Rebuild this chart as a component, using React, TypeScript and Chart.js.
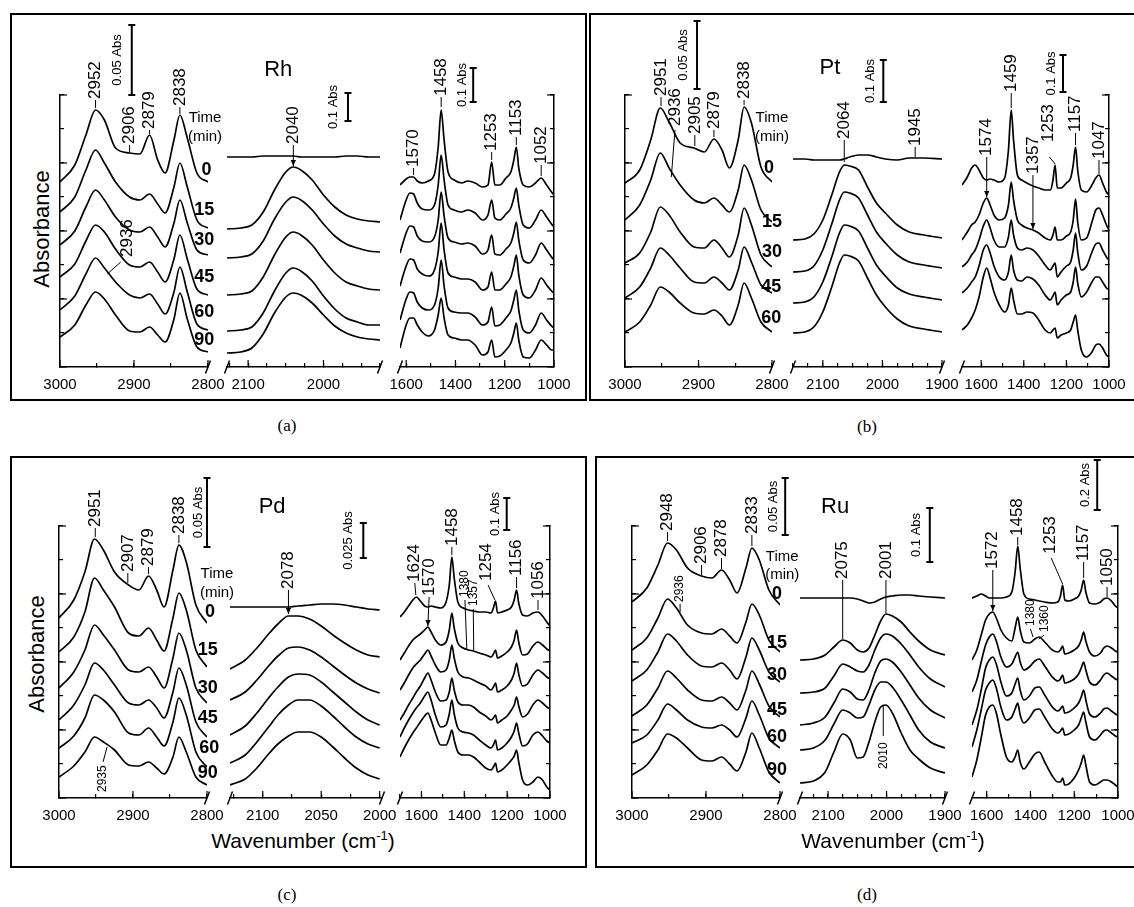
import React, { useEffect, useRef } from 'react';
import { Chart, registerables } from 'chart.js';

Chart.register(...registerables);

const SANS = '"Liberation Sans", Arial, Helvetica, sans-serif';
const SERIF = '"Liberation Serif", "Times New Roman", Times, serif';
const YMAX = 272;

// ---------------- wavenumber grids (cm-1) ----------------
const chX = [3000, 2980, 2965, 2952, 2940, 2925, 2906, 2892, 2879, 2868, 2858, 2846, 2838, 2828, 2815, 2800];
const rhCOX = [2128, 2110, 2095, 2080, 2065, 2050, 2040, 2030, 2015, 2000, 1985, 1970, 1955, 1940, 1925];
const rhFPX = [1625, 1600, 1585, 1570, 1555, 1535, 1510, 1485, 1470, 1458, 1446, 1430, 1405, 1375, 1350, 1320, 1290, 1268, 1253, 1240, 1220, 1195, 1175, 1163, 1153, 1143, 1125, 1100, 1075, 1052, 1030, 1010, 1000];
const ptCOX = [2150, 2130, 2115, 2100, 2085, 2072, 2064, 2055, 2040, 2025, 2010, 1995, 1975, 1955, 1930, 1900];
const ptFPX = [1690, 1665, 1645, 1628, 1610, 1590, 1574, 1558, 1540, 1515, 1490, 1472, 1459, 1448, 1430, 1410, 1385, 1357, 1330, 1300, 1275, 1263, 1253, 1243, 1225, 1200, 1180, 1168, 1157, 1147, 1130, 1105, 1080, 1062, 1047, 1030, 1012, 1000];
const pdCOX = [2128, 2115, 2105, 2095, 2087, 2078, 2070, 2060, 2050, 2040, 2030, 2020, 2010, 2000];
const pdFPX = [1700, 1680, 1660, 1640, 1624, 1605, 1585, 1570, 1555, 1535, 1510, 1485, 1470, 1458, 1447, 1430, 1405, 1380, 1357, 1330, 1300, 1275, 1264, 1254, 1245, 1225, 1200, 1180, 1167, 1156, 1146, 1128, 1105, 1080, 1056, 1035, 1015, 1000];
const ruCOX = [2148, 2125, 2105, 2090, 2075, 2062, 2050, 2040, 2030, 2020, 2010, 2001, 1990, 1975, 1960, 1945, 1925, 1900];
const ruFPX = [1667, 1645, 1625, 1605, 1588, 1572, 1556, 1535, 1510, 1485, 1470, 1458, 1447, 1430, 1405, 1380, 1360, 1335, 1300, 1275, 1263, 1253, 1243, 1225, 1200, 1180, 1168, 1157, 1147, 1130, 1105, 1080, 1065, 1050, 1030, 1012, 1000];

// ---------------- stacked spectra (offset absorbance, a.u.) ----------------
// Rh: 0, 15, 30, 45, 60, 90 min
const rhCH = [
  [185, 202, 232, 257, 247, 219, 214, 213, 232, 207, 194, 227, 252, 229, 194, 185],
  [155, 170, 197, 217, 204, 185, 170, 167, 173, 163, 154, 180, 204, 180, 147, 139],
  [122, 136, 160, 177, 167, 150, 137, 135, 140, 130, 120, 144, 167, 144, 117, 112],
  [90, 103, 126, 142, 135, 118, 102, 100, 105, 95, 85, 108, 132, 108, 78, 72],
  [57, 71, 93, 109, 99, 85, 72, 69, 73, 63, 53, 75, 100, 75, 43, 37],
  [30, 42, 62, 75, 68, 52, 36, 35, 40, 32, 25, 48, 74, 48, 20, 15],
];
const rhCO = [
  [210, 210, 210, 211, 211, 211, 211, 210, 210, 210, 210, 211, 211, 210, 210],
  [138, 139, 142, 155, 177, 195, 200, 197, 187, 172, 160, 152, 148, 146, 145],
  [109, 110, 113, 126, 148, 165, 170, 167, 157, 143, 131, 123, 119, 116, 115],
  [72, 73, 76, 90, 112, 130, 135, 132, 122, 107, 94, 85, 81, 78, 77],
  [36, 37, 40, 54, 76, 94, 99, 96, 86, 71, 58, 49, 45, 42, 42],
  [14, 15, 19, 33, 54, 70, 74, 72, 64, 52, 41, 34, 30, 28, 27],
];
const rhFP = [
  [182, 188, 190, 190, 186, 184, 186, 193, 220, 257, 227, 195, 187, 184, 186, 184, 180, 182, 205, 182, 182, 189, 195, 207, 220, 199, 182, 180, 184, 189, 182, 175, 172],
  [147, 167, 174, 173, 164, 158, 157, 162, 182, 212, 187, 162, 157, 155, 157, 154, 147, 152, 167, 149, 147, 153, 159, 169, 179, 162, 142, 139, 147, 157, 150, 143, 140],
  [114, 134, 141, 140, 131, 126, 125, 130, 147, 175, 151, 129, 125, 123, 124, 121, 113, 117, 132, 113, 112, 118, 124, 134, 145, 127, 107, 104, 112, 124, 117, 110, 107],
  [81, 101, 108, 107, 98, 93, 91, 97, 115, 144, 117, 94, 90, 88, 88, 85, 77, 80, 95, 77, 77, 83, 90, 101, 112, 92, 72, 69, 77, 89, 82, 76, 74],
  [47, 68, 75, 74, 65, 59, 57, 62, 79, 107, 81, 59, 55, 54, 54, 50, 42, 45, 60, 41, 42, 49, 56, 67, 77, 57, 37, 34, 42, 54, 47, 41, 39],
  [19, 42, 49, 49, 42, 35, 31, 37, 52, 69, 49, 32, 29, 27, 27, 22, 12, 15, 27, 10, 11, 17, 24, 34, 44, 27, 10, 9, 17, 27, 22, 17, 17],
];
// Pt: 0, 15, 30, 45, 60 min
const ptCH = [
  [184, 197, 227, 259, 245, 224, 219, 215, 228, 217, 199, 227, 260, 244, 200, 185],
  [147, 162, 187, 214, 199, 182, 167, 164, 169, 162, 155, 177, 202, 187, 157, 145],
  [104, 114, 135, 160, 152, 135, 120, 119, 127, 119, 110, 132, 159, 142, 112, 100],
  [69, 80, 99, 119, 112, 99, 85, 84, 90, 84, 77, 97, 120, 105, 82, 74],
  [35, 45, 62, 80, 75, 64, 54, 53, 57, 51, 42, 62, 84, 69, 45, 35],
];
const ptCO = [
  [208, 208, 207, 207, 207, 207, 208, 210, 212, 212, 210, 208, 207, 209, 209, 208],
  [127, 128, 133, 147, 172, 195, 202, 201, 197, 180, 164, 154, 142, 135, 132, 129],
  [95, 96, 101, 117, 143, 167, 175, 174, 169, 152, 135, 124, 112, 105, 102, 99],
  [64, 65, 70, 85, 110, 134, 142, 141, 136, 119, 102, 91, 79, 73, 70, 67],
  [34, 35, 40, 55, 80, 104, 112, 111, 106, 89, 72, 60, 48, 41, 38, 35],
];
const ptFP = [
  [182, 190, 199, 202, 197, 189, 187, 188, 187, 185, 189, 217, 257, 227, 192, 187, 184, 181, 179, 177, 177, 187, 202, 179, 179, 184, 189, 202, 220, 197, 177, 175, 182, 189, 192, 184, 175, 172],
  [127, 135, 142, 145, 152, 164, 169, 162, 152, 147, 149, 162, 185, 167, 147, 142, 139, 137, 134, 129, 127, 132, 140, 127, 127, 131, 135, 147, 168, 145, 127, 129, 145, 157, 159, 152, 142, 137],
  [100, 105, 112, 117, 127, 141, 147, 139, 127, 120, 120, 130, 147, 132, 119, 117, 119, 117, 111, 102, 97, 101, 104, 90, 95, 101, 105, 117, 134, 115, 97, 101, 115, 123, 124, 117, 110, 107],
  [74, 79, 85, 90, 101, 117, 122, 114, 101, 90, 87, 95, 112, 97, 87, 86, 90, 88, 82, 72, 67, 71, 75, 62, 67, 72, 75, 85, 100, 84, 70, 75, 85, 90, 90, 85, 79, 77],
  [37, 42, 49, 57, 70, 90, 99, 89, 75, 62, 55, 62, 79, 67, 53, 53, 55, 54, 47, 37, 34, 37, 39, 29, 32, 34, 37, 45, 52, 37, 17, 10, 15, 22, 23, 19, 12, 10],
];
// Pd: 0, 15, 30, 45, 60, 90 min
const pdCH = [
  [180, 198, 226, 259, 248, 226, 213, 208, 222, 208, 191, 228, 253, 236, 193, 175],
  [146, 161, 186, 220, 208, 191, 165, 162, 170, 158, 147, 180, 205, 188, 148, 131],
  [110, 126, 148, 173, 163, 148, 128, 126, 131, 121, 110, 140, 165, 148, 110, 95],
  [78, 93, 113, 135, 128, 113, 95, 93, 98, 90, 80, 106, 130, 113, 76, 61],
  [50, 62, 80, 103, 98, 86, 65, 63, 70, 61, 52, 76, 100, 83, 46, 31],
  [21, 32, 46, 61, 56, 48, 33, 32, 36, 30, 24, 41, 61, 46, 21, 13],
];
const pdCO = [
  [191, 191, 191, 191, 191, 191, 192, 193, 194, 194, 193, 191, 189, 188],
  [129, 138, 150, 164, 174, 182, 182, 179, 172, 163, 155, 148, 143, 141],
  [98, 106, 118, 132, 142, 150, 151, 148, 141, 132, 123, 115, 109, 105],
  [63, 72, 85, 100, 111, 121, 124, 123, 116, 106, 96, 86, 78, 73],
  [35, 43, 56, 71, 83, 93, 98, 98, 92, 82, 71, 61, 54, 50],
  [13, 19, 30, 44, 54, 62, 66, 66, 61, 51, 40, 30, 23, 19],
];
const pdFP = [
  [181, 186, 192, 198, 201, 197, 192, 191, 192, 191, 190, 196, 213, 241, 220, 196, 190, 188, 187, 186, 186, 185, 190, 197, 185, 186, 188, 191, 198, 208, 195, 183, 182, 185, 186, 182, 176, 172],
  [138, 145, 152, 158, 161, 164, 168, 171, 166, 158, 153, 156, 168, 185, 170, 155, 150, 148, 147, 145, 143, 141, 144, 148, 140, 142, 146, 151, 158, 168, 156, 143, 144, 152, 156, 153, 149, 147],
  [108, 115, 123, 130, 134, 138, 144, 148, 142, 133, 126, 128, 138, 153, 140, 126, 121, 120, 118, 115, 112, 108, 111, 115, 106, 108, 112, 118, 125, 135, 124, 112, 114, 123, 128, 125, 121, 119],
  [78, 85, 93, 100, 106, 112, 120, 125, 118, 106, 97, 98, 106, 120, 108, 96, 93, 93, 91, 86, 82, 78, 80, 83, 75, 78, 82, 88, 93, 101, 92, 81, 84, 93, 98, 95, 91, 89],
  [61, 70, 78, 85, 90, 95, 102, 106, 98, 83, 71, 73, 84, 98, 84, 70, 66, 65, 63, 58, 53, 50, 53, 58, 48, 50, 55, 61, 67, 75, 65, 52, 54, 63, 66, 62, 57, 55],
  [41, 50, 58, 65, 70, 76, 82, 85, 78, 65, 53, 53, 60, 68, 58, 46, 43, 43, 41, 36, 30, 28, 31, 35, 26, 28, 33, 38, 42, 48, 36, 18, 13, 16, 21, 18, 11, 8],
];
// Ru: 0, 15, 30, 45, 60, 90 min
const ruCH = [
  [196, 210, 233, 255, 248, 230, 222, 220, 228, 218, 205, 230, 250, 238, 208, 193],
  [148, 160, 180, 199, 190, 173, 165, 164, 169, 162, 155, 176, 194, 183, 158, 146],
  [117, 128, 146, 164, 157, 143, 132, 131, 135, 128, 119, 141, 160, 148, 126, 116],
  [82, 93, 110, 127, 120, 108, 98, 97, 101, 95, 88, 108, 127, 114, 92, 81],
  [55, 63, 78, 94, 88, 78, 71, 70, 73, 68, 61, 80, 97, 83, 60, 50],
  [23, 33, 48, 64, 60, 50, 38, 37, 41, 34, 27, 46, 65, 50, 26, 15],
];
const ruCO = [
  [200, 200, 200, 200, 200, 200, 199, 197, 195, 196, 199, 201, 202, 203, 203, 202, 201, 200],
  [138, 139, 143, 151, 158, 155, 148, 146, 150, 163, 177, 184, 182, 176, 166, 157, 148, 143],
  [105, 106, 110, 122, 134, 131, 127, 126, 133, 148, 160, 164, 162, 154, 143, 131, 119, 111],
  [73, 75, 81, 95, 109, 106, 99, 98, 108, 125, 137, 139, 136, 126, 113, 100, 88, 80],
  [48, 50, 58, 74, 88, 85, 80, 81, 93, 108, 116, 116, 111, 98, 83, 68, 56, 50],
  [15, 17, 26, 46, 64, 58, 40, 41, 56, 76, 91, 93, 85, 65, 48, 39, 30, 25],
];
const ruFP = [
  [200, 202, 204, 202, 200, 200, 200, 200, 201, 206, 226, 252, 230, 204, 199, 198, 197, 196, 195, 196, 202, 213, 198, 197, 199, 202, 208, 218, 206, 195, 194, 196, 199, 200, 197, 192, 190],
  [138, 148, 163, 178, 184, 186, 180, 168, 160, 157, 170, 181, 168, 156, 155, 159, 161, 156, 148, 146, 148, 152, 144, 145, 148, 152, 158, 166, 157, 146, 142, 145, 150, 152, 150, 147, 146],
  [106, 118, 136, 153, 161, 164, 157, 141, 131, 134, 141, 146, 136, 128, 131, 137, 139, 132, 121, 117, 119, 123, 115, 116, 119, 124, 130, 136, 128, 116, 113, 118, 123, 125, 122, 119, 118],
  [73, 88, 108, 130, 138, 141, 134, 116, 102, 105, 114, 120, 108, 98, 102, 110, 111, 103, 91, 87, 89, 92, 85, 86, 90, 95, 101, 108, 98, 84, 81, 85, 89, 90, 87, 84, 83],
  [51, 68, 88, 108, 115, 118, 110, 91, 78, 81, 89, 95, 83, 75, 80, 88, 89, 81, 69, 65, 67, 70, 63, 64, 68, 73, 80, 86, 76, 61, 58, 63, 67, 68, 65, 62, 61],
  [21, 38, 60, 83, 91, 93, 85, 63, 41, 36, 41, 48, 36, 29, 36, 44, 46, 36, 22, 16, 16, 20, 13, 14, 20, 28, 35, 43, 33, 16, 13, 16, 18, 18, 16, 13, 11],
];

// ---------------- annotations (in wavenumber / a.u. coordinates) ----------------
const pk = (s: string, x: number, b: number, t: number) => ({ k: 'p', s, x, h: b, x1: x, h1: b, x2: x, h2: t });
const pkA = (s: string, x: number, b: number, t: number) => ({ k: 'pa', s, x, h: b, x1: x, h1: b, x2: x, h2: t });
const pkD = (s: string, x: number, b: number, x1: number, h1: number, x2: number, h2: number) => ({ k: 'p', s, x, h: b, x1, h1, x2, h2 });
const pkDA = (s: string, x: number, b: number, x1: number, h1: number, x2: number, h2: number) => ({ k: 'pa', s, x, h: b, x1, h1, x2, h2 });
const pkS = (s: string, x: number, b: number, x1: number, h1: number, x2: number, h2: number) => ({ k: 'ps', s, x, h: b, x1, h1, x2, h2 });
const bar = (s: string, x: number, h1: number, h2: number, tx: number) => ({ k: 'bar', s, x, h: 0, h1, h2, tx });
const tm = (s: string, x: number, h: number) => ({ k: 'tm', s, x, h });
const tn = (s: string, x: number, h: number) => ({ k: 'tn', s, x, h });
const ttl = (s: string, x: number, h: number) => ({ k: 'title', s, x, h });

const rhCHNotes = [
  pk('2952', 2952, 267, 259), bar('0.05 Abs', 2903, 272, 342, 2922),
  pk('2906', 2906, 222, 215), pk('2879', 2879, 237, 233), pk('2838', 2838, 260, 253),
  pkD('2936', 2909.5, 109, 2918, 105, 2936, 93),
  tm('Time', 2804, 249), tm('(min)', 2804, 230),
  tn('0', 2802, 197), tn('15', 2805, 157), tn('30', 2805, 127), tn('45', 2805, 90), tn('60', 2805, 55), tn('90', 2805, 27),
];
const rhCONotes = [ttl('Rh', 2060, 297), pkA('2040', 2040, 222, 201), bar('0.1 Abs', 1967.5, 246, 274, 1987)];
const rhFPNotes = [
  pk('1570', 1570, 199, 192), pk('1458', 1458, 270, 260), bar('0.1 Abs', 1328, 265, 299, 1371),
  pk('1253', 1253, 215, 207), pk('1153', 1153, 230, 222), pk('1052', 1052, 202, 191),
];
const ptCHNotes = [
  pk('2951', 2951, 270, 261), pkD('2936', 2932, 240, 2932, 237, 2937, 190), bar('0.05 Abs', 2902, 278, 346, 2921),
  pk('2905', 2905, 232, 221), pk('2879', 2879, 237, 230), pk('2838', 2838, 267, 262),
  tm('Time', 2800, 249), tm('(min)', 2800, 230),
  tn('0', 2804, 199), tn('15', 2800, 145), tn('30', 2800, 115), tn('45', 2801, 80), tn('60', 2801, 49),
];
const ptCONotes = [ttl('Pt', 2088, 299), pk('2064', 2064, 227, 205), bar('0.1 Abs', 1998.5, 265, 307, 2020.6), pk('1945', 1945, 220, 210)];
const ptFPNotes = [
  pkA('1574', 1574, 210, 170), pk('1459', 1459, 274, 259), pkA('1357', 1357, 192, 138),
  pkD('1253', 1287, 224, 1280, 210, 1253, 203), bar('0.1 Abs', 1216, 275, 312, 1271),
  pk('1157', 1157, 234, 222), pk('1047', 1047, 207, 193),
];
const pdCHNotes = [
  bar('0.05 Abs', 2800, 251, 320, 2812),
  pk('2951', 2951, 270, 261), pk('2907', 2907, 225, 215), pk('2879', 2879, 231, 224), pk('2838', 2838, 263, 255),
  tm('Time', 2786.5, 224), tm('(min)', 2786.5, 205),
  tn('0', 2796, 186), tn('15', 2799, 148), tn('30', 2799, 110), tn('45', 2799, 80), tn('60', 2797, 50), tn('90', 2799, 25),
  pkS('2935', 2940.5, 5, 2940.5, 36, 2935, 51),
];
const pdCONotes = [ttl('Pd', 2092, 291), pkA('2078', 2078, 208, 184), bar('0.025 Abs', 2014, 240, 275, 2027)];
const pdFPNotes = [
  pkD('1624', 1631, 215, 1631, 215, 1626, 203), pkDA('1570', 1564, 201, 1564, 201, 1570, 172), pk('1458', 1458, 251, 243),
  pkS('1380', 1397, 200, 1397, 198, 1388, 148), pkS('1357', 1358, 191, 1358, 189, 1356, 148),
  pkD('1254', 1296, 216, 1289, 213, 1257, 198), bar('0.1 Abs', 1202, 268, 300, 1257),
  pk('1156', 1156, 221, 210), pk('1056', 1056, 198, 188),
];
const ruCHNotes = [
  pk('2948', 2952, 266, 257), bar('0.05 Abs', 2793, 263, 320, 2809),
  pkS('2936', 2935, 195, 2935, 194, 2935, 186),
  pk('2906', 2906, 233, 223), pk('2878', 2879, 240, 229), pk('2833', 2838, 263, 252),
  tm('Time', 2797, 241), tm('(min)', 2797, 223),
  tn('0', 2804, 204), tn('15', 2804, 155), tn('30', 2804, 123), tn('45', 2804, 88), tn('60', 2804, 61), tn('90', 2804, 28),
];
const ruCONotes = [
  ttl('Ru', 2088, 291), pk('2075', 2075, 218, 159), pk('2001', 2001, 218, 185),
  bar('0.1 Abs', 1926, 236, 290, 1948.5), pkS('2010', 2005.6, 28, 2005.6, 62, 2005.6, 92),
];
const ruFPNotes = [
  pkA('1572', 1572, 228, 187), pk('1458', 1458, 261, 253),
  pkD('1253', 1310, 243, 1305, 240, 1253, 214),
  pkS('1380', 1401, 171, 1400, 169, 1388, 161), pkS('1360', 1333, 165, 1337, 163, 1362, 159),
  bar('0.2 Abs', 1095, 288, 338, 1149), pk('1157', 1157, 236, 220), pk('1050', 1050, 211, 201),
];

// ---------------- sub-plot definitions ----------------
const chAxis = { min: 2800, max: 3000, step: 50, major: 100 };
const PANELS = [
  {
    box: [10, 13, 577, 388], plotTop: 95, axisY: 367, cap: '(a)', capXY: [287, 426], abs: [42, 229], wave: null,
    subs: [
      { area: [60, 208], xs: chX, ys: rhCH, ...chAxis, yAxis: 'left', breaks: [false, true], notes: rhCHNotes },
      { area: [227, 380], xs: rhCOX, ys: rhCO, min: 1925, max: 2128, step: 25, major: 100, yAxis: null, breaks: [true, true], notes: rhCONotes },
      { area: [400, 554], xs: rhFPX, ys: rhFP, min: 1000, max: 1625, step: 100, major: 200, yAxis: 'right', breaks: [true, false], notes: rhFPNotes },
    ],
  },
  {
    box: [589, 13, 560, 388], plotTop: 95, axisY: 367, cap: '(b)', capXY: [867, 427], abs: null, wave: null,
    subs: [
      { area: [625, 772], xs: chX, ys: ptCH, ...chAxis, yAxis: 'left', breaks: [false, true], notes: ptCHNotes },
      { area: [793, 942], xs: ptCOX, ys: ptCO, min: 1900, max: 2150, step: 25, major: 100, yAxis: null, breaks: [true, true], notes: ptCONotes },
      { area: [962, 1109], xs: ptFPX, ys: ptFP, min: 1000, max: 1690, step: 100, major: 200, yAxis: 'right', breaks: [true, false], notes: ptFPNotes },
    ],
  },
  {
    box: [10, 456, 577, 412], plotTop: 526, axisY: 798, cap: '(c)', capXY: [287, 895], abs: [37, 654], wave: [303, 840],
    subs: [
      { area: [59, 207], xs: chX, ys: pdCH, ...chAxis, yAxis: 'left', breaks: [false, true], notes: pdCHNotes },
      { area: [230, 382], xs: pdCOX, ys: pdCO, min: 1998, max: 2128, step: 25, major: 50, yAxis: null, breaks: [true, true], notes: pdCONotes },
      { area: [400, 550], xs: pdFPX, ys: pdFP, min: 1000, max: 1700, step: 100, major: 200, yAxis: 'right', breaks: [true, false], notes: pdFPNotes },
    ],
  },
  {
    box: [595, 456, 560, 412], plotTop: 526, axisY: 798, cap: '(d)', capXY: [867, 895], abs: null, wave: [893, 840],
    subs: [
      { area: [632, 780], xs: chX, ys: ruCH, ...chAxis, yAxis: 'left', breaks: [false, true], notes: ruCHNotes },
      { area: [800, 945], xs: ruCOX, ys: ruCO, min: 1900, max: 2148, step: 25, major: 100, yAxis: null, breaks: [true, true], notes: ruCONotes },
      { area: [972, 1118], xs: ruFPX, ys: ruFP, min: 1000, max: 1667, step: 100, major: 200, yAxis: 'right', breaks: [true, false], notes: ruFPNotes },
    ],
  },
];

// ---------------- drawing helpers ----------------
function seg(ctx: any, x1: number, y1: number, x2: number, y2: number) {
  ctx.beginPath(); ctx.moveTo(x1, y1); ctx.lineTo(x2, y2); ctx.stroke();
}
function arrowHead(ctx: any, x1: number, y1: number, x2: number, y2: number) {
  const a = Math.atan2(y2 - y1, x2 - x1), L = 6, W = 2.6;
  const bx = x2 - L * Math.cos(a), by = y2 - L * Math.sin(a);
  ctx.beginPath();
  ctx.moveTo(x2, y2);
  ctx.lineTo(bx + W * Math.sin(a), by - W * Math.cos(a));
  ctx.lineTo(bx - W * Math.sin(a), by + W * Math.cos(a));
  ctx.closePath(); ctx.fill();
}

function stepTicks(min: number, max: number, step: number) {
  const out: { value: number }[] = [];
  for (let v = Math.ceil(min / step - 1e-9) * step; v <= max + 1e-9; v += step) out.push({ value: Math.round(v * 1000) / 1000 });
  return out;
}

function makeNotesPlugin(sub: any) {
  return {
    id: 'notes',
    afterDraw(chart: any) {
      const ctx = chart.ctx, xs = chart.scales.x, ys = chart.scales.y, ca = chart.chartArea;
      const X = (v: number) => xs.getPixelForValue(v);
      const Y = (v: number) => ys.getPixelForValue(v);
      ctx.save();
      ctx.strokeStyle = '#000'; ctx.fillStyle = '#000';
      // longer major ticks
      ctx.lineWidth = 1.2;
      for (const t of stepTicks(sub.min, sub.max, sub.major)) {
        const p = X(t.value); seg(ctx, p, ca.bottom, p, ca.bottom - 7);
      }
      if (sub.yAxis) {
        const ex = sub.yAxis === 'left' ? ca.left : ca.right;
        const dir = sub.yAxis === 'left' ? 1 : -1;
        for (const t of stepTicks(0, YMAX, 68)) { const p = Y(t.value); seg(ctx, ex, p, ex + dir * 7, p); }
      }
      // axis break marks
      ctx.lineWidth = 1.5;
      const slash = (x: number) => seg(ctx, x - 2.5, ca.bottom + 6.5, x + 2.5, ca.bottom - 6.5);
      if (sub.breaks[0]) slash(ca.left);
      if (sub.breaks[1]) slash(ca.right);
      // annotations
      for (const n of sub.notes) {
        if (n.k === 'p' || n.k === 'pa' || n.k === 'ps') {
          ctx.font = (n.k === 'ps' ? '12px ' : '17px ') + SANS;
          ctx.save();
          ctx.translate(X(n.x), Y(n.h) - 1);
          ctx.rotate(-Math.PI / 2);
          ctx.textAlign = 'left'; ctx.textBaseline = 'middle';
          ctx.fillText(n.s, 0, 0);
          ctx.restore();
          ctx.lineWidth = 1;
          const x1 = X(n.x1), y1 = Y(n.h1), x2 = X(n.x2), y2 = Y(n.h2);
          seg(ctx, x1, y1, x2, y2);
          if (n.k === 'pa') arrowHead(ctx, x1, y1, x2, y2);
        } else if (n.k === 'bar') {
          const bx = X(n.x), y1 = Y(n.h1), y2 = Y(n.h2);
          ctx.lineWidth = 2;
          seg(ctx, bx, y1, bx, y2);
          seg(ctx, bx - 3.5, y1, bx + 3.5, y1);
          seg(ctx, bx - 3.5, y2, bx + 3.5, y2);
          ctx.font = '13px ' + SANS;
          ctx.save();
          ctx.translate(X(n.tx), Y((n.h1 + n.h2) / 2));
          ctx.rotate(-Math.PI / 2);
          ctx.textAlign = 'center'; ctx.textBaseline = 'middle';
          ctx.fillText(n.s, 0, 0);
          ctx.restore();
        } else {
          ctx.font = n.k === 'tn' ? 'bold 18px ' + SANS : n.k === 'title' ? '22px ' + SANS : '15px ' + SANS;
          ctx.textAlign = 'center'; ctx.textBaseline = 'middle';
          ctx.fillText(n.s, X(n.x), Y(n.h));
        }
      }
      ctx.restore();
    },
  };
}

const M = 70;
const XH = 40;

function SubChart({ sub, plotTop, axisY, boxTop }: any) {
  const ref = useRef<HTMLCanvasElement | null>(null);
  const padTop = plotTop - boxTop;
  const width = sub.area[1] - sub.area[0] + 2 * M;
  const height = padTop + (axisY - plotTop) + XH;
  useEffect(() => {
    if (!ref.current) return;
    const chart = new Chart(ref.current, {
      type: 'line',
      data: {
        datasets: sub.ys.map((arr: number[]) => ({
          data: sub.xs.map((x: number, i: number) => ({ x, y: arr[i] })),
          borderColor: '#000',
          borderWidth: 1.7,
          pointRadius: 0,
          fill: false,
          cubicInterpolationMode: 'monotone',
        })),
      },
      options: {
        animation: false,
        responsive: false,
        devicePixelRatio: 1,
        events: [],
        layout: { padding: { left: M, right: M, top: padTop, bottom: 0 } },
        plugins: { legend: { display: false }, tooltip: { enabled: false } },
        scales: {
          x: {
            type: 'linear',
            reverse: true,
            min: sub.min,
            max: sub.max,
            afterBuildTicks: (s: any) => { s.ticks = stepTicks(sub.min, sub.max, sub.step); },
            afterFit: (s: any) => { s.height = XH; s.paddingLeft = 0; s.paddingRight = 0; },
            border: { display: true, color: '#000', width: 1.5 },
            grid: { drawOnChartArea: false, drawTicks: true, tickLength: -4, color: '#000', lineWidth: 1.2 },
            ticks: {
              autoSkip: false,
              maxRotation: 0,
              minRotation: 0,
              padding: 13,
              color: '#000',
              font: { family: SANS, size: 15 },
              callback: (v: any) => (Math.round(Number(v)) % sub.major === 0 ? String(Math.round(Number(v))) : ''),
            },
          },
          y: {
            type: 'linear',
            min: 0,
            max: YMAX,
            display: sub.yAxis !== null,
            position: sub.yAxis || 'left',
            afterBuildTicks: (s: any) => { s.ticks = stepTicks(0, YMAX, 34); },
            afterFit: (s: any) => { s.width = 0; },
            border: { display: true, color: '#000', width: 1.5 },
            grid: { drawOnChartArea: false, drawTicks: true, tickLength: -4, color: '#000', lineWidth: 1.2 },
            ticks: { display: false },
          },
        },
      } as any,
      plugins: [makeNotesPlugin(sub)],
    });
    return () => chart.destroy();
  }, []);
  return (
    <canvas
      ref={ref}
      width={width}
      height={height}
      style={{ position: 'absolute', left: sub.area[0] - M, top: boxTop, width, height }}
    />
  );
}

export default function App() {
  return (
    <div style={{ position: 'fixed', left: 0, top: 0, width: 1134, height: 907, overflow: 'hidden', background: '#fff' }}>
      {PANELS.map((p, pi) => (
        <React.Fragment key={pi}>
          <div
            style={{
              position: 'absolute', left: p.box[0], top: p.box[1], width: p.box[2], height: p.box[3],
              border: '2px solid #000', boxSizing: 'border-box',
            }}
          />
          <div
            style={{
              position: 'absolute', left: p.capXY[0], top: p.capXY[1], transform: 'translate(-50%, -50%)',
              fontFamily: SERIF, fontSize: 17, whiteSpace: 'nowrap',
            }}
          >
            {p.cap}
          </div>
          {p.abs && (
            <div
              style={{
                position: 'absolute', left: p.abs[0], top: p.abs[1], transform: 'translate(-50%, -50%) rotate(-90deg)',
                fontFamily: SANS, fontSize: 22, whiteSpace: 'nowrap', lineHeight: 1,
              }}
            >
              Absorbance
            </div>
          )}
          {p.wave && (
            <div
              style={{
                position: 'absolute', left: p.wave[0], top: p.wave[1], transform: 'translate(-50%, -50%)',
                fontFamily: SANS, fontSize: 21, whiteSpace: 'nowrap', lineHeight: 1,
              }}
            >
              Wavenumber (cm<sup style={{ fontSize: 13 }}>-1</sup>)
            </div>
          )}
          {p.subs.map((s, si) => (
            <SubChart key={si} sub={s} plotTop={p.plotTop} axisY={p.axisY} boxTop={p.box[1]} />
          ))}
        </React.Fragment>
      ))}
    </div>
  );
}
